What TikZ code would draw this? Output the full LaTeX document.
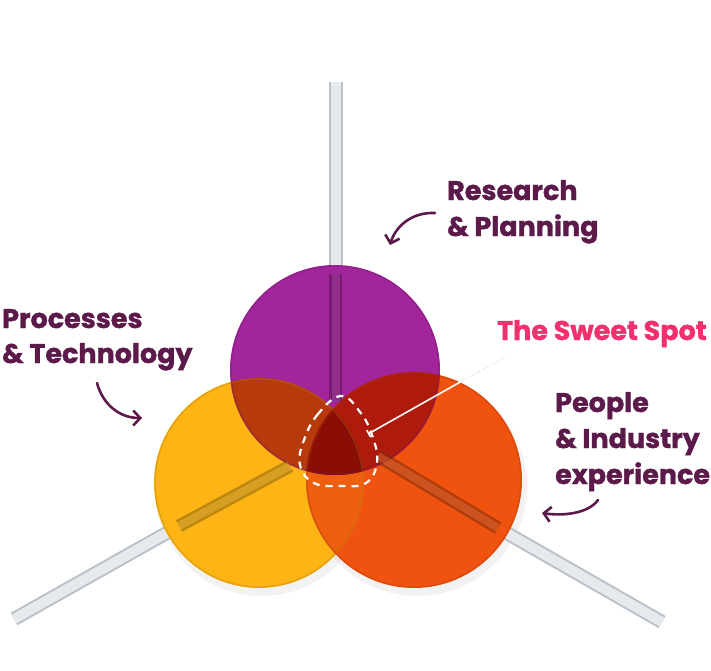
\documentclass[tikz,border=0pt]{standalone}
\usepackage{fontspec}
\newfontfamily\lab{Poppins}[BoldFeatures={FakeBold=1.3}]
\usetikzlibrary{arrows.meta}
\definecolor{plum}{HTML}{5C1A4B}
\definecolor{pinkt}{HTML}{F2306E}
\definecolor{candyP}{HTML}{A2259B}
\definecolor{candyY}{HTML}{FDB414}
\definecolor{candyO}{HTML}{F0530F}
\definecolor{candyPY}{HTML}{B63A0C}
\definecolor{candyPO}{HTML}{AE1B0C}
\definecolor{candyYO}{HTML}{EE600F}
\definecolor{candyPYO}{HTML}{8A0E06}
\definecolor{stickE}{HTML}{B9C0C6}
\definecolor{stickF}{HTML}{E6EAEE}
\tikzset{
  lbl/.style={font=\lab\bfseries\fontsize{27}{30}\selectfont, text=plum, inner sep=0pt, anchor=base west},
  arr/.style={draw=plum, line width=2.6pt, line cap=round, -{Straight Barb[length=7pt,width=15pt,line width=2.6pt]}},
  stickout/.style={draw=stickE, line width=14pt},
  stickin/.style={draw=stickF, line width=10pt},
  rim/.style={line width=1.3pt, draw opacity=0.35}
}
\begin{document}
\begin{tikzpicture}[x=1pt,y=-1pt]
\useasboundingbox (0,0) rectangle (711,670);
% centres
\coordinate (cP) at (335,370);
\coordinate (cY) at (259,483);
\coordinate (cO) at (414,480);
% soft shadow
\fill[black, opacity=0.05] (262,489) circle[radius=107pt];
\fill[black, opacity=0.05] (417,486) circle[radius=110pt];
% sticks outside the candy
\coordinate (tA) at (335.5,82);  \coordinate (tB) at (335.5,274);
\coordinate (lA) at (14,619);    \coordinate (lB) at (179,526);
\coordinate (rA) at (662,622);   \coordinate (rB) at (498,528);
\foreach \a/\b in {tA/tB,lA/lB,rA/rB}{
  \draw[stickout] (\a) -- (\b);
  \draw[stickin] (\a) -- (\b);
}
% candies
\fill[candyY] (cY) circle[radius=105pt];
\fill[candyO] (cO) circle[radius=108pt];
\fill[candyP] (cP) circle[radius=105pt];
% overlaps
\begin{scope}
  \clip (cY) circle[radius=105pt];
  \fill[candyYO] (cO) circle[radius=108pt];
\end{scope}
\begin{scope}
  \clip (cP) circle[radius=105pt];
  \fill[candyPY] (cY) circle[radius=105pt];
  \fill[candyPO] (cO) circle[radius=108pt];
  \clip (cY) circle[radius=105pt];
  \fill[candyPYO] (cO) circle[radius=108pt];
\end{scope}
% rims
\draw[rim, draw=candyY!70!black] (cY) circle[radius=104pt];
\draw[rim, draw=candyO!70!black] (cO) circle[radius=107pt];
\draw[rim, draw=candyP!70!black] (cP) circle[radius=104pt];
% sticks inside the candy
\coordinate (tC) at (335.5,402);
\coordinate (lC) at (290,466);
\coordinate (rC) at (378,456);
\foreach \a/\b/\c in {tB/tC/candyP,lB/lC/candyY,rB/rC/candyO}{
  \draw[draw=\c!50!black, line width=13pt, draw opacity=0.5] (\a) -- (\b);
  \draw[draw=\c!80!white, line width=8pt, draw opacity=0.4] (\a) -- (\b);
}
% sweet spot outline
\draw[white, line width=2.2pt, dash pattern=on 7pt off 6pt]
  plot[smooth cycle, tension=0.7] coordinates {(341,396) (318,414) (304,440) (300,465) (314,483) (340,486) (366,483) (377,462) (372,435) (360,412)};
% pointer
\coordinate (sp) at (368,434);
\coordinate (sq) at (462,381);
\coordinate (sr) at (506,357);
\draw[white, line width=1.6pt, {Bar[width=8pt,line width=1.6pt]}-] (sp) -- (sq);
\draw[black!20, line width=0.8pt, dotted] (sq) -- (sr);
% labels
\node[lbl] (r1) at (447,200) {Research};
\node[lbl] (r2) at (447,236) {\& Planning};
\node[lbl] (p1) at (2,328) {Processes};
\node[lbl] (p2) at (2,363) {\& Technology};
\node[lbl, text=pinkt] (s1) at (497,340) {The Sweet Spot};
\node[lbl] (e1) at (555,412) {People};
\node[lbl] (e2) at (555,448) {\& Industry};
\node[lbl] (e3) at (555,484) {experience};
% arrows
\coordinate (ra1) at (435,213); \coordinate (ra2) at (390,245);
\draw[arr] (ra1) .. controls (410,212) and (395,228) .. (ra2);
\coordinate (pa1) at (97,383);  \coordinate (pa2) at (142,418);
\draw[arr] (pa1) .. controls (103,405) and (120,418) .. (pa2);
\coordinate (ea1) at (598,500); \coordinate (ea2) at (542,513);
\draw[arr] (ea1) .. controls (588,514) and (562,516) .. (ea2);
\end{tikzpicture}
\end{document}
